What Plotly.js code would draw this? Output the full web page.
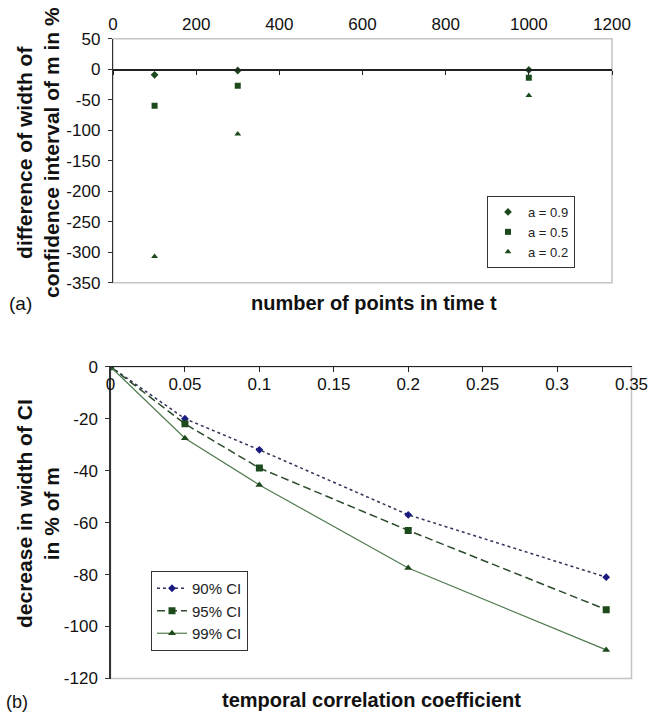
<!DOCTYPE html>
<html>
<head>
<meta charset="utf-8">
<script src="https://cdn.plot.ly/plotly-3.0.1.min.js"></script>
<style>html,body{margin:0;padding:0;background:#fff;}#chart{width:666px;height:714px;}</style>
</head>
<body>
<div id="chart"></div>
<script>
// ---- data: panel (a) ----
const nPoints = [100, 300, 1000];
const diffA09 = [-9, -2, -1];
const diffA05 = [-60, -27, -14];
const diffA02 = [-307, -106, -43];
const seriesNamesA = ['a = 0.9', 'a = 0.5', 'a = 0.2'];
const xTickValsA = [0, 200, 400, 600, 800, 1000, 1200];
const yTickValsA = [50, 0, -50, -100, -150, -200, -250, -300, -350];
const yTickTextA = ['50', '0', '-50', '-100', '-150', '-200', '-250', '-300', '-350'];

// ---- data: panel (b) ----
const corrCoef = [0, 0.05, 0.1, 0.2, 0.333];
const ci90 = [0, -20, -32, -57, -81];
const ci95 = [0, -22, -39, -63, -93.5];
const ci99 = [0, -27.5, -45.5, -77.5, -109];
const seriesNamesB = ['90% CI', '95% CI', '99% CI'];
const xTickValsB = [0, 0.05, 0.1, 0.15, 0.2, 0.25, 0.3, 0.35];
const xTickTextB = ['0', '0.05', '0.1', '0.15', '0.2', '0.25', '0.3', '0.35'];
const yTickValsB = [0, -20, -40, -60, -80, -100, -120];
const yTickTextB = ['0', '-20', '-40', '-60', '-80', '-100', '-120'];

const FONT = 'Arial, "Liberation Sans", sans-serif';
const W = 666, H = 714;
const px = v => v / W;
const py = v => 1 - v / H;

const green = '#1d4a1d';

const traces = [
  {x: nPoints, y: diffA09, name: seriesNamesA[0], mode: 'markers', type: 'scatter', xaxis: 'x', yaxis: 'y', legend: 'legend',
   marker: {symbol: 'diamond', size: 6, color: green}},
  {x: nPoints, y: diffA05, name: seriesNamesA[1], mode: 'markers', type: 'scatter', xaxis: 'x', yaxis: 'y', legend: 'legend',
   marker: {symbol: 'square', size: 6, color: green}},
  {x: nPoints, y: diffA02, name: seriesNamesA[2], mode: 'markers', type: 'scatter', xaxis: 'x', yaxis: 'y', legend: 'legend',
   marker: {symbol: 'triangle-up', size: 6, color: green}},
  // helper traces so the extra overlay axes (x3, x4) are drawn
  {x: [], y: [], type: 'scatter', mode: 'markers', xaxis: 'x3', yaxis: 'y', showlegend: false, hoverinfo: 'skip'},
  {x: [], y: [], type: 'scatter', mode: 'markers', xaxis: 'x4', yaxis: 'y2', showlegend: false, hoverinfo: 'skip'},
  {x: corrCoef, y: ci90, name: seriesNamesB[0], mode: 'lines+markers', type: 'scatter', xaxis: 'x2', yaxis: 'y2', legend: 'legend2',
   line: {dash: 'dot', width: 1.5, color: '#33335a'}, marker: {symbol: 'diamond', size: 6, color: '#1a1a80'}},
  {x: corrCoef, y: ci95, name: seriesNamesB[1], mode: 'lines+markers', type: 'scatter', xaxis: 'x2', yaxis: 'y2', legend: 'legend2',
   line: {dash: '8px,4px', width: 1.5, color: '#2c4a2c'}, marker: {symbol: 'square', size: 7, color: green}},
  {x: corrCoef, y: ci99, name: seriesNamesB[2], mode: 'lines+markers', type: 'scatter', xaxis: 'x2', yaxis: 'y2', legend: 'legend2',
   line: {dash: 'solid', width: 1.2, color: '#4f7a4f'}, marker: {symbol: 'triangle-up', size: 7, color: green}}
];

const tickFont = {family: FONT, size: 17, color: '#111'};

const layout = {
  width: W, height: H,
  margin: {l: 0, r: 0, t: 0, b: 0},
  paper_bgcolor: '#fff', plot_bgcolor: '#fff',
  font: {family: FONT, color: '#111'},
  showlegend: true,
  xaxis: {
    domain: [px(113), px(612)], range: [0, 1200], anchor: 'y', side: 'top',
    tickvals: xTickValsA, showline: false, showgrid: false, zeroline: false, ticks: '',
    tickfont: tickFont, ticklabelstandoff: 4
  },
  xaxis3: {
    overlaying: 'x', anchor: 'free', position: py(69.3), side: 'bottom', range: [0, 1200],
    tickvals: xTickValsA, showticklabels: false, showline: true, linecolor: '#222', linewidth: 1.2,
    ticks: 'outside', ticklen: 4, tickcolor: '#222', showgrid: false, zeroline: false
  },
  yaxis: {
    domain: [py(282.7), py(38.8)], range: [-350, 50], anchor: 'x',
    tickvals: yTickValsA, ticktext: yTickTextA,
    showline: true, linecolor: '#333', linewidth: 1.2, ticks: 'outside', ticklen: 4, tickcolor: '#333',
    showgrid: false, zeroline: false, tickfont: tickFont, ticklabelstandoff: 4
  },
  xaxis2: {
    domain: [px(110.5), px(631.5)], range: [0, 0.35], anchor: 'y2', side: 'top',
    tickvals: xTickValsB, showticklabels: false,
    showline: true, linecolor: '#222', linewidth: 1.2, ticks: 'inside', ticklen: 5, tickcolor: '#222',
    showgrid: false, zeroline: false
  },
  xaxis4: {
    overlaying: 'x2', anchor: 'free', position: py(366.7), side: 'bottom', range: [0, 0.35],
    tickvals: xTickValsB, ticktext: xTickTextB, showline: false, ticks: '',
    showgrid: false, zeroline: false, tickfont: tickFont, ticklabelstandoff: 5
  },
  yaxis2: {
    domain: [py(678.5), py(366.7)], range: [-120, 0], anchor: 'x2',
    tickvals: yTickValsB, ticktext: yTickTextB,
    showline: true, linecolor: '#333', linewidth: 1.2, ticks: 'outside', ticklen: 4, tickcolor: '#333',
    showgrid: false, zeroline: false, tickfont: tickFont, ticklabelstandoff: 4
  },
  legend: {
    x: px(487), y: py(196), xanchor: 'left', yanchor: 'top',
    bordercolor: '#333', borderwidth: 1, bgcolor: '#fff',
    font: {family: FONT, size: 13, color: '#222'}, tracegroupgap: 0, itemwidth: 30
  },
  legend2: {
    x: px(151), y: py(571), xanchor: 'left', yanchor: 'top',
    bordercolor: '#333', borderwidth: 1, bgcolor: '#fff',
    font: {family: FONT, size: 15, color: '#222'}, tracegroupgap: 0, itemwidth: 30
  },
  shapes: [
    {type: 'rect', xref: 'x domain', yref: 'y domain', x0: 0, x1: 1, y0: 0, y1: 1,
     line: {color: '#c4c4c4', width: 1.5}, layer: 'below'},
    {type: 'rect', xref: 'x2 domain', yref: 'y2 domain', x0: 0, x1: 1, y0: 0, y1: 1,
     line: {color: '#c4c4c4', width: 1.5}, layer: 'below'}
  ],
  annotations: [
    {text: '<b>difference of width of<br>confidence interval of m in %</b>', textangle: -90,
     xref: 'paper', yref: 'paper', x: px(38), y: py(153), xanchor: 'center', yanchor: 'middle',
     showarrow: false, font: {family: FONT, size: 21, color: '#111'}},
    {text: '<b>number of points in time t</b>', xref: 'paper', yref: 'paper', x: px(374), y: py(303),
     xanchor: 'center', yanchor: 'middle', showarrow: false, font: {family: FONT, size: 20, color: '#111'}},
    {text: '(a)', xref: 'paper', yref: 'paper', x: px(21), y: py(303), xanchor: 'center', yanchor: 'middle',
     showarrow: false, font: {family: FONT, size: 19, color: '#111'}},
    {text: '<b>decrease in width of CI<br>in % of m</b>', textangle: -90,
     xref: 'paper', yref: 'paper', x: px(38), y: py(514), xanchor: 'center', yanchor: 'middle',
     showarrow: false, font: {family: FONT, size: 21, color: '#111'}},
    {text: '<b>temporal correlation coefficient</b>', xref: 'paper', yref: 'paper', x: px(372), y: py(700),
     xanchor: 'center', yanchor: 'middle', showarrow: false, font: {family: FONT, size: 20, color: '#111'}},
    {text: '(b)', xref: 'paper', yref: 'paper', x: px(17), y: py(702), xanchor: 'center', yanchor: 'middle',
     showarrow: false, font: {family: FONT, size: 18, color: '#111'}}
  ]
};

Plotly.newPlot('chart', traces, layout, {staticPlot: true, displayModeBar: false});
</script>
</body>
</html>
